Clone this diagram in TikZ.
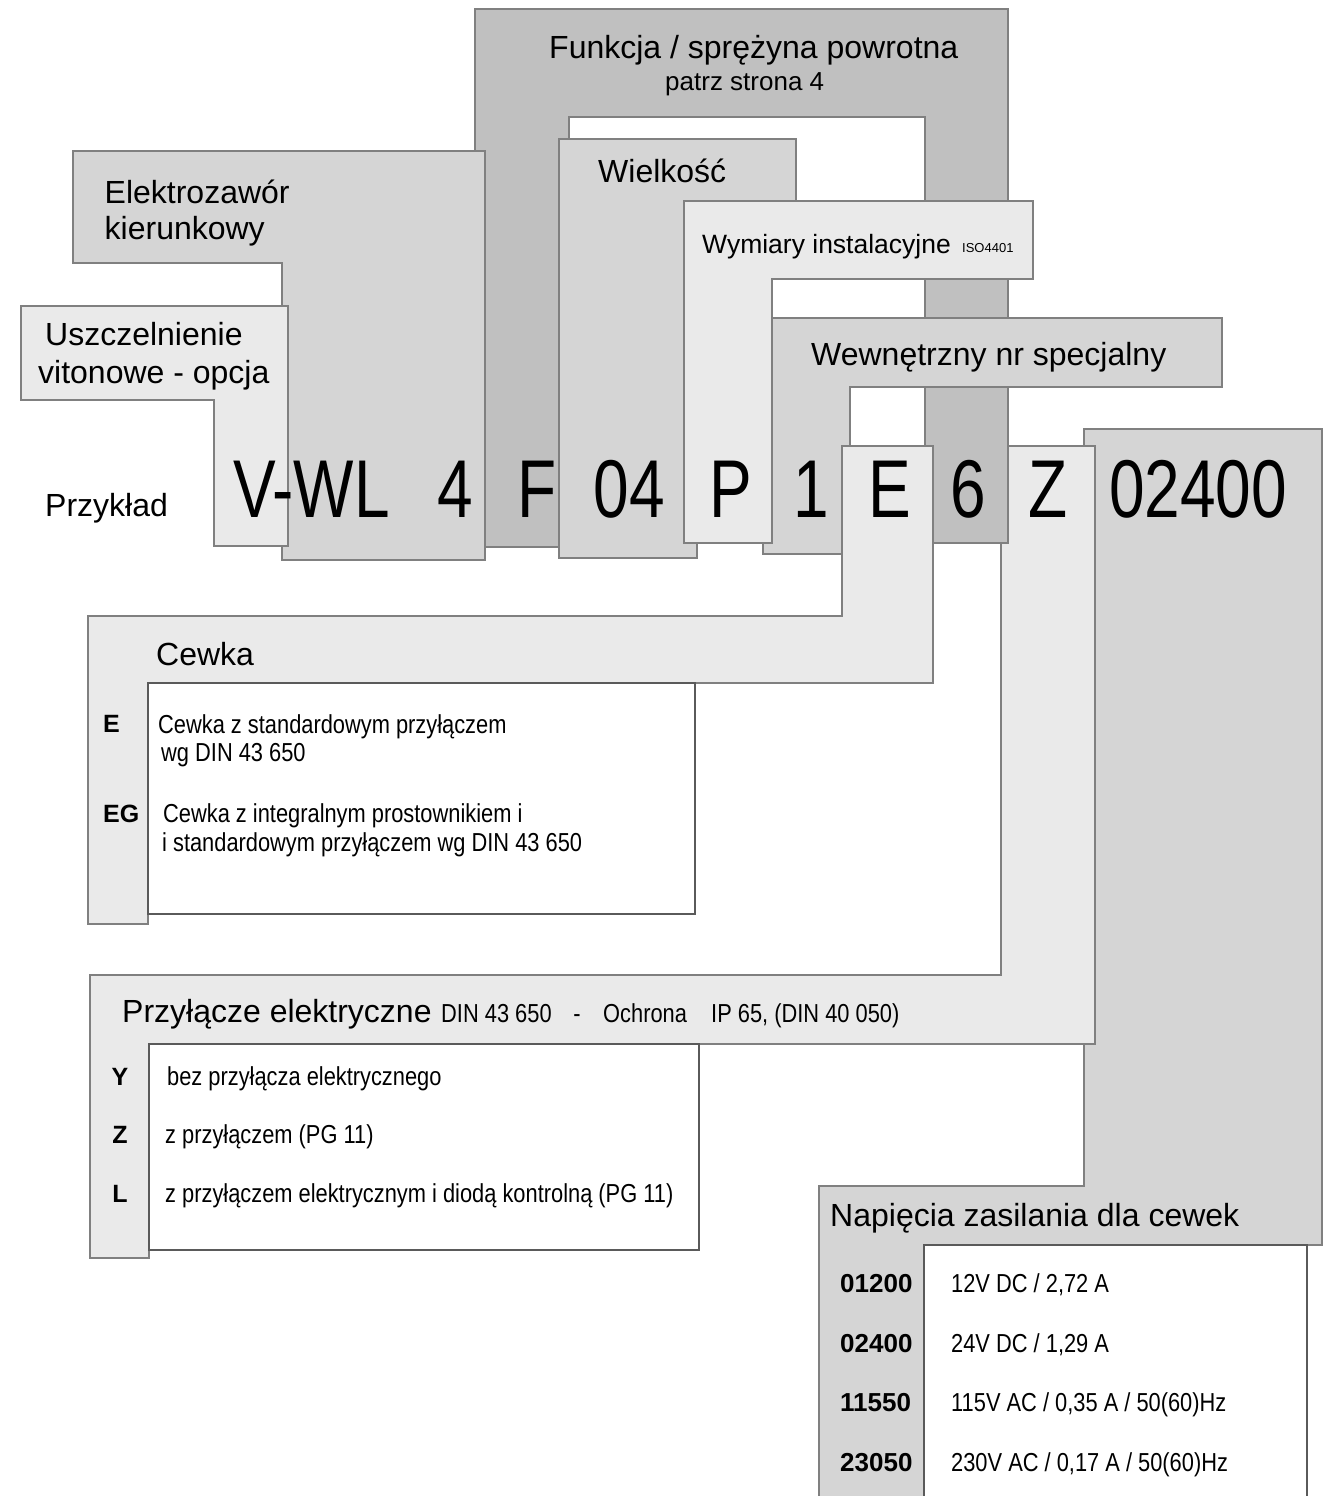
\documentclass[tikz,border=0pt]{standalone}
\usepackage{fontspec}
\setmainfont{Liberation Sans}
\newfontfamily\narrowfont[FakeStretch=0.84]{Liberation Sans}
\newfontfamily\bignarrow[FakeStretch=0.78]{Liberation Sans}
\definecolor{cdark}{HTML}{C0C0C0}
\definecolor{cmid}{HTML}{D5D5D5}
\definecolor{clight}{HTML}{EAEAEA}
\definecolor{cline}{HTML}{808080}
\definecolor{cwline}{HTML}{5A5A5A}
\begin{document}
\begin{tikzpicture}[x=1pt,y=-1pt,
  shp/.style={draw=cline, line width=1.2pt, line join=miter},
  wbox/.style={draw=cwline, fill=white, line width=1.2pt},
  title/.style={anchor=base west, inner sep=0pt, font=\fontsize{32}{38}\selectfont},
  sub/.style={anchor=base west, inner sep=0pt, font=\fontsize{26}{31}\selectfont},
  big/.style={anchor=base, inner sep=0pt, font=\bignarrow\fontsize{82}{90}\selectfont},
  body/.style={anchor=base west, inner sep=0pt, font=\narrowfont\fontsize{26}{31}\selectfont},
  code/.style={anchor=base west, inner sep=0pt, font=\bfseries\fontsize{25}{30}\selectfont},
  codec/.style={anchor=base, inner sep=0pt, font=\bfseries\fontsize{25}{30}\selectfont},
  vcode/.style={anchor=base west, inner sep=0pt, font=\bfseries\fontsize{26}{31}\selectfont}]
\useasboundingbox (0,0) rectangle (1339,1496);
\fill[white] (0,0) rectangle (1339,1496);

% Napiecia zasilania (lowest)
\draw[shp, fill=cmid] (1084,429) -- (1322,429) -- (1322,1245) -- (924,1245) -- (924,1510) -- (819,1510) -- (819,1186) -- (1084,1186) -- cycle;
\draw[wbox] (924,1245) rectangle (1307,1510);

% Przylacze elektryczne
\draw[shp, fill=clight] (1001,446) -- (1095,446) -- (1095,1044) -- (149,1044) -- (149,1258) -- (90,1258) -- (90,975) -- (1001,975) -- cycle;
\draw[wbox] (149,1044) rectangle (699,1250);

% Funkcja
\draw[shp, fill=cdark] (475,9) -- (1008,9) -- (1008,543) -- (925,543) -- (925,117) -- (569,117) -- (569,547) -- (475,547) -- cycle;

% Elektrozawor
\draw[shp, fill=cmid] (73,151) -- (485,151) -- (485,560) -- (282,560) -- (282,263) -- (73,263) -- cycle;

% Uszczelnienie
\draw[shp, fill=clight] (21,306) -- (288,306) -- (288,546) -- (214,546) -- (214,400) -- (21,400) -- cycle;

% Wielkosc
\draw[shp, fill=cmid] (559,139) -- (796,139) -- (796,230) -- (697,230) -- (697,558) -- (559,558) -- cycle;

% Wewnetrzny
\draw[shp, fill=cmid] (763,318) -- (1222,318) -- (1222,387) -- (850,387) -- (850,554) -- (763,554) -- cycle;

% Wymiary
\draw[shp, fill=clight] (684,201) -- (1033,201) -- (1033,279) -- (772,279) -- (772,543) -- (684,543) -- cycle;

% Cewka
\draw[shp, fill=clight] (842,446) -- (933,446) -- (933,683) -- (148,683) -- (148,924) -- (88,924) -- (88,616) -- (842,616) -- cycle;
\draw[wbox] (148,683) rectangle (695,914);

% header texts
\node[title] (tFun) at (549,58.5) {Funkcja / sprężyna powrotna};
\node[sub] (tPat) at (665,90) {patrz strona 4};
\node[title] (tWie) at (598,182) {Wielkość};
\node[anchor=base west, inner sep=0pt, font=\fontsize{26.5}{31}\selectfont] (tWym) at (702,253) {Wymiary instalacyjne};
\node[anchor=base west, inner sep=0pt, font=\fontsize{13}{15}\selectfont] (tIso) at (962,252.6) {ISO4401};
\node[title] (tWew) at (811,365) {Wewnętrzny nr specjalny};
\node[title] (tEl1) at (104.5,203) {Elektrozawór};
\node[title] (tEl2) at (104.5,239.5) {kierunkowy};
\node[title] (tUs1) at (45,345.5) {Uszczelnienie};
\node[title] (tUs2) at (38,383) {vitonowe - opcja};
\node[title] (tPrz) at (45,516) {Przykład};

% big code
\node[big, anchor=base west] (bVWL) at (233,517) {V-WL};
\node[big] (b4) at (455,517) {4};
\node[big] (bF) at (537,517) {F};
\node[big] (b04) at (629.5,517) {04};
\node[big] (bP) at (731,517) {P};
\node[big] (b1) at (811,517) {1};
\node[big] (bE) at (890,517) {E};
\node[big] (b6) at (968,517) {6};
\node[big] (bZ) at (1048,517) {Z};
\node[big] (b02400) at (1198,517) {02400};

% Cewka
\node[title] (tCew) at (156,665) {Cewka};
\node[code] (cE) at (103,732) {E};
\node[body] (cE1) at (158,733) {Cewka z standardowym przyłączem};
\node[body] (cE2) at (161,761) {wg DIN 43 650};
\node[code] (cEG) at (103,822) {EG};
\node[body] (cEG1) at (163,822) {Cewka z integralnym prostownikiem i};
\node[body] (cEG2) at (162,851) {i standardowym przyłączem wg DIN 43 650};

% Przylacze
\node[title] (tPel) at (122,1022.6) {Przyłącze elektryczne};
\node[body] (tPel1) at (441,1022.6) {DIN 43 650};
\node[body, anchor=base] (tPel2) at (577,1022.6) {-};
\node[body] (tPel3) at (603,1022.6) {Ochrona};
\node[body] (tPel4) at (711,1022.6) {IP 65, (DIN 40 050)};
\node[codec] (pY) at (120,1085) {Y};
\node[body] (pY1) at (167,1085) {bez przyłącza elektrycznego};
\node[codec] (pZ) at (120,1143) {Z};
\node[body] (pZ1) at (165,1143) {z przyłączem (PG 11)};
\node[codec] (pL) at (120,1202) {L};
\node[body] (pL1) at (165,1202) {z przyłączem elektrycznym i diodą kontrolną (PG 11)};

% Napiecia
\node[title] (tNap) at (830,1226) {Napięcia zasilania dla cewek};
\node[vcode] (n1) at (840,1292) {01200};
\node[body] (n1t) at (951,1292) {12V DC / 2,72 A};
\node[vcode] (n2) at (840,1352) {02400};
\node[body] (n2t) at (951,1352) {24V DC / 1,29 A};
\node[vcode] (n3) at (840,1411) {11550};
\node[body] (n3t) at (951,1411) {115V AC / 0,35 A / 50(60)Hz};
\node[vcode] (n4) at (840,1471) {23050};
\node[body] (n4t) at (951,1471) {230V AC / 0,17 A / 50(60)Hz};
\end{tikzpicture}
\end{document}
